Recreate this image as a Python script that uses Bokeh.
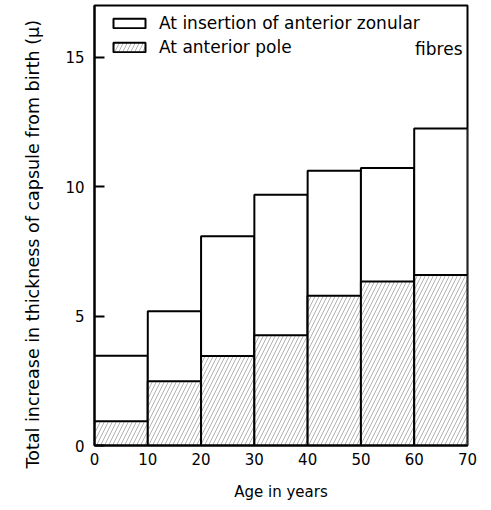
from bokeh.plotting import figure
from bokeh.models import Legend, LegendItem, Label, FixedTicker, Range1d, Title
from bokeh.embed import file_html
from bokeh.resources import INLINE

age_left = [0, 10, 20, 30, 40, 50, 60]
age_right = [10, 20, 30, 40, 50, 60, 70]
insertion = [3.47, 5.19, 8.08, 9.69, 10.62, 10.72, 12.25]
pole = [0.94, 2.48, 3.46, 4.26, 5.79, 6.34, 6.59]
x_ticks = [0, 10, 20, 30, 40, 50, 60, 70]
y_ticks = [0, 5, 10, 15]

FONT = "DejaVu Sans"

p = figure(width=491, height=510, output_backend="svg", toolbar_location=None,
           x_range=Range1d(0, 70), y_range=Range1d(0, 17.0),
           min_border_left=94, min_border_right=24, min_border_top=5, min_border_bottom=65)

p.xgrid.visible = False
p.ygrid.visible = False
p.outline_line_color = "black"
p.outline_line_width = 2
p.background_fill_color = "white"
p.border_fill_color = "white"

r_ins = p.quad(left=age_left, right=age_right, bottom=0, top=insertion,
               fill_color="white", line_color="black", line_width=2)
r_pole = p.quad(left=age_left, right=age_right, bottom=0, top=pole,
                fill_color="white", line_color="black", line_width=2,
                hatch_pattern="/", hatch_color="#808080", hatch_weight=0.6, hatch_scale=8)

p.xaxis.ticker = FixedTicker(ticks=x_ticks)
p.yaxis.ticker = FixedTicker(ticks=y_ticks)
for ax in (p.xaxis[0], p.yaxis[0]):
    ax.axis_line_width = 2
    ax.axis_line_color = "black"
    ax.minor_tick_line_color = None
    ax.major_label_text_font = FONT
    ax.major_label_text_font_size = "15px"
    ax.major_label_text_color = "black"
    ax.axis_label_text_font = FONT
    ax.axis_label_text_font_style = "normal"
    ax.axis_label_text_color = "black"

p.xaxis.major_tick_line_color = None
p.xaxis.major_tick_in = 0
p.xaxis.major_tick_out = 0
p.xaxis.major_label_standoff = 7
p.xaxis.axis_label = "Age in years"
p.xaxis.axis_label_text_font_size = "15px"
p.xaxis.axis_label_standoff = 15

p.yaxis.major_tick_in = 10
p.yaxis.major_tick_out = 0
p.yaxis.major_tick_line_width = 2
p.yaxis.major_label_standoff = 10

y_title = Title(text="Total increase in thickness of capsule from birth (\u03bc)",
                align="left", offset=-23, standoff=40,
                text_font=FONT, text_font_size="17.5px", text_font_style="normal",
                text_color="black")
p.add_layout(y_title, "left")

legend = Legend(items=[LegendItem(label="At insertion of anterior zonular", renderers=[r_ins]),
                       LegendItem(label="At anterior pole", renderers=[r_pole])],
                location=(15, 388))
legend.glyph_width = 40
legend.glyph_height = 12
legend.label_height = 12
legend.label_standoff = 10
legend.spacing = 4
legend.padding = 0
legend.margin = 0
legend.border_line_color = None
legend.background_fill_alpha = 0
legend.label_text_font = FONT
legend.label_text_font_size = "17px"
legend.label_text_color = "black"
p.add_layout(legend)

p.add_layout(Label(x=69.06, y=15.31, text="fibres", text_align="right", text_baseline="middle",
                   text_font=FONT, text_font_size="17px", text_color="black"))

open("out.html", "w").write(file_html(p, INLINE))
